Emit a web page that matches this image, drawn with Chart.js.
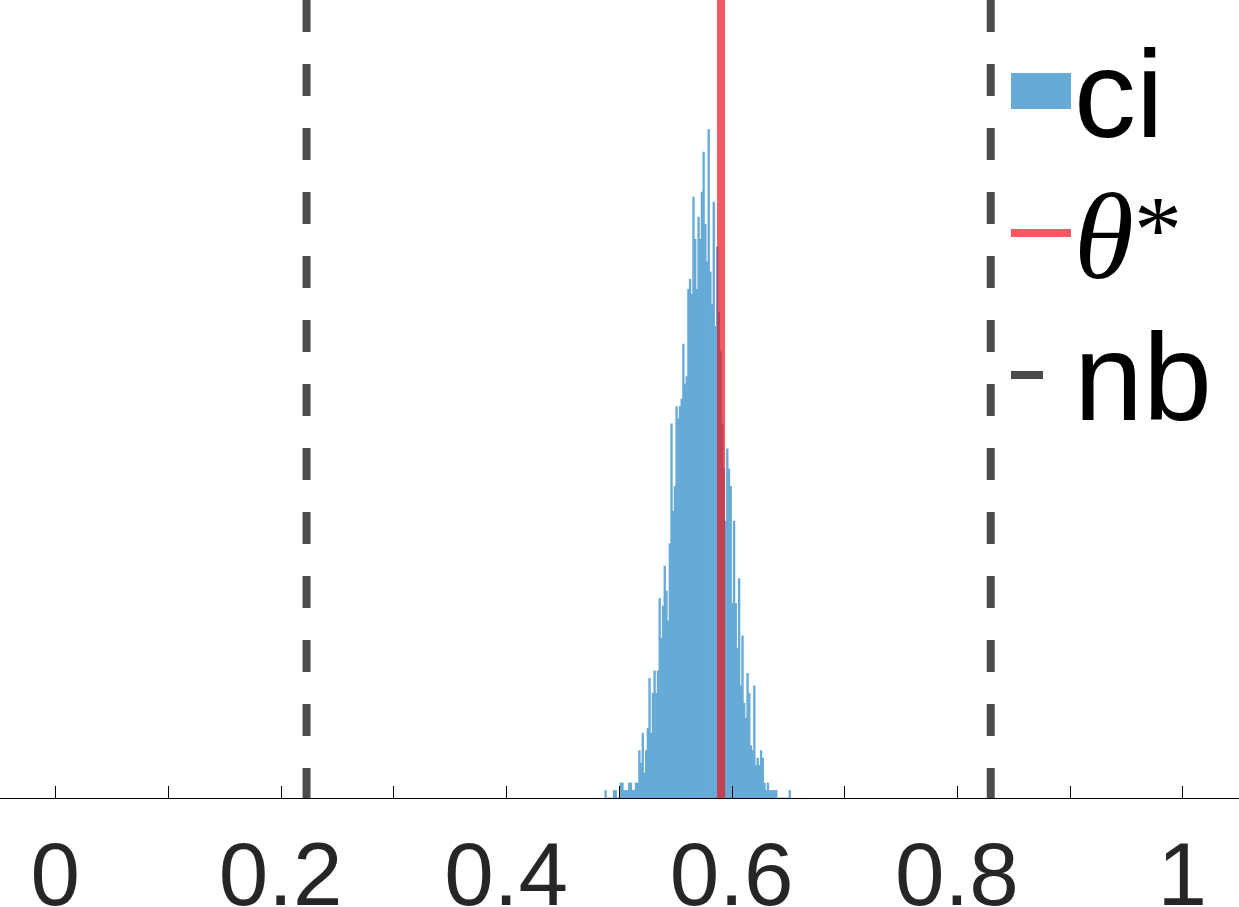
<!DOCTYPE html>
<html>
<head>
<meta charset="utf-8">
<title>ci histogram</title>
<script src="https://cdn.jsdelivr.net/npm/chart.js@4.4.1/dist/chart.umd.min.js"></script>
<style>
  body { margin: 0; background: #fff; }
  canvas { display: block; }
</style>
</head>
<body>
<canvas id="myChart" width="1239" height="907"></canvas>
<script>
// histogram bins (left edge of first bin, bin width) and counts
var binStart = 0.4875;
var binWidth = 0.0015;
var binCounts = [
  3, 0, 0, 0, 0, 3, 3, 0, 0, 6,
  6, 3, 3, 3, 6, 6, 3, 3, 6, 6,
  19, 14, 26, 10, 19, 28, 48, 26, 42, 51,
  42, 51, 80, 64, 77, 93, 83, 71, 102, 150,
  115, 125, 157, 152, 157, 160, 182, 166, 169, 204,
  208, 202, 241, 224, 204, 233, 224, 243, 259, 230,
  215, 268, 211, 198, 239, 189, 221, 195, 179, 150,
  132, 111, 140, 132, 125, 78, 111, 78, 60, 88,
  45, 65, 38, 32, 50, 42, 21, 19, 45, 13,
  16, 13, 19, 16, 6, 3, 6, 3, 3, 3,
  3, 3, 0, 0, 0, 0, 0, 0, 0, 3
];
var binCenters = binCounts.map(function (c, i) { return binStart + binWidth * (i + 0.5); });

var thetaStar = 0.5907;
var nbBounds = [0.2229, 0.8300];

var tickValues = [0, 0.1, 0.2, 0.3, 0.4, 0.5, 0.6, 0.7, 0.8, 0.9, 1];
var tickLabels = ["0", "", "0.2", "", "0.4", "", "0.6", "", "0.8", "", "1"];

var xMin = -0.0491;
var xMax = 1.0503;
var yMax = 320;

var blue = "rgb(102, 170, 215)";
var red = "rgba(231, 22, 28, 0.7)";
var gray = "rgba(0, 0, 0, 0.7)";

// tick marks point up into the plot, like the original
var innerTicks = {
  id: "innerTicks",
  afterDatasetsDraw: function (chart) {
    var x = chart.scales.x;
    var ctx = chart.ctx;
    var bottom = chart.chartArea.bottom;
    ctx.save();
    ctx.strokeStyle = "#000";
    ctx.lineWidth = 1;
    x.ticks.forEach(function (t) {
      var px = Math.round(x.getPixelForValue(t.value)) + 0.5;
      ctx.beginPath();
      ctx.moveTo(px, bottom);
      ctx.lineTo(px, bottom - 12);
      ctx.stroke();
    });
    ctx.restore();
  }
};

// legend with italic theta, drawn by hand
var sideLegend = {
  id: "sideLegend",
  afterDraw: function (chart) {
    var ctx = chart.ctx;
    ctx.save();
    ctx.fillStyle = blue;
    ctx.fillRect(1011, 73, 60, 36);

    ctx.lineCap = "butt";
    ctx.lineWidth = 8;
    ctx.strokeStyle = red;
    ctx.beginPath();
    ctx.moveTo(1011, 233);
    ctx.lineTo(1071, 233);
    ctx.stroke();

    ctx.strokeStyle = gray;
    ctx.beginPath();
    ctx.moveTo(1011, 375);
    ctx.lineTo(1043, 375);
    ctx.stroke();

    ctx.fillStyle = "#000";
    ctx.textBaseline = "alphabetic";
    ctx.textAlign = "left";
    ctx.font = "124px 'Liberation Sans', Arial, Helvetica, sans-serif";
    ctx.fillText("ci", 1074, 137);
    ctx.fillText("nb", 1074, 420);

    ctx.font = "italic 122px 'Liberation Serif', 'Times New Roman', serif";
    ctx.fillText("\u03B8", 1074, 278);
    ctx.font = "96px 'Liberation Serif', 'Times New Roman', serif";
    ctx.fillText("*", 1134, 262);
    ctx.restore();
  }
};

var ctx = document.getElementById("myChart").getContext("2d");

var myChart = new Chart(ctx, {
  type: "bar",
  data: {
    datasets: [
      {
        type: "line",
        label: "theta",
        data: [{ x: thetaStar, y: yMax }, { x: thetaStar, y: 0 }],
        borderColor: red,
        borderWidth: 8,
        borderCapStyle: "butt",
        pointRadius: 0,
        order: 1,
      },
      {
        type: "line",
        label: "nb low",
        data: [{ x: nbBounds[0], y: yMax }, { x: nbBounds[0], y: 0 }],
        borderColor: gray,
        borderWidth: 8,
        borderDash: [32, 32],
        borderCapStyle: "butt",
        pointRadius: 0,
        order: 1,
      },
      {
        type: "line",
        label: "nb high",
        data: [{ x: nbBounds[1], y: yMax }, { x: nbBounds[1], y: 0 }],
        borderColor: gray,
        borderWidth: 8,
        borderDash: [32, 32],
        borderCapStyle: "butt",
        pointRadius: 0,
        order: 1,
      },
      {
        label: "ci",
        data: binCenters.map(function (x, i) { return { x: x, y: binCounts[i] }; }),
        backgroundColor: blue,
        borderWidth: 0,
        barPercentage: 1,
        categoryPercentage: 1,
        order: 2,
      },
    ],
  },
  options: {
    responsive: false,
    animation: false,
    layout: { padding: 0 },
    plugins: {
      legend: { display: false },
      tooltip: { enabled: false },
    },
    scales: {
      x: {
        type: "linear",
        min: xMin,
        max: xMax,
        offset: false,
        afterBuildTicks: function (scale) {
          scale.ticks = tickValues.map(function (v) { return { value: v }; });
        },
        afterFit: function (scale) {
          scale.height = 109;
          scale.paddingLeft = 0;
          scale.paddingRight = 0;
        },
        grid: { display: false, drawTicks: false, offset: false },
        border: { display: true, color: "#000", width: 1 },
        ticks: {
          autoSkip: false,
          maxRotation: 0,
          padding: 38,
          color: "#262626",
          font: { family: "'Liberation Sans', Arial, Helvetica, sans-serif", size: 89, lineHeight: 1 },
          callback: function (value, index) { return tickLabels[index]; },
        },
      },
      y: {
        display: false,
        min: 0,
        max: yMax,
      },
    },
  },
  plugins: [innerTicks, sideLegend],
});
</script>
</body>
</html>
